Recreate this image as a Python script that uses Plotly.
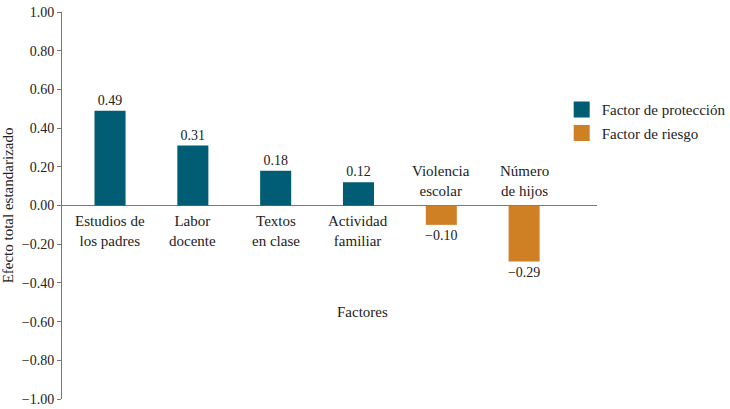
import plotly.graph_objects as go

factores = ['Estudios de<br>los padres', 'Labor<br>docente', 'Textos<br>en clase',
            'Actividad<br>familiar', 'Violencia<br>escolar', 'Número<br>de hijos']
efecto = [0.49, 0.31, 0.18, 0.12, -0.10, -0.29]
tipo = ['Factor de protección'] * 4 + ['Factor de riesgo'] * 2
colores = {'Factor de protección': '#005d73', 'Factor de riesgo': '#cf7f24'}
y_ticks = [1.0, 0.8, 0.6, 0.4, 0.2, 0.0, -0.2, -0.4, -0.6, -0.8, -1.0]

FONT = "'Liberation Serif', 'Times New Roman', serif"
INK = '#222'


def fmt(v):
    return '{:.2f}'.format(v).replace('-', '\u2212')


fig = go.Figure()

for t in ['Factor de protección', 'Factor de riesgo']:
    xs = [f for f, k in zip(factores, tipo) if k == t]
    ys = [v for v, k in zip(efecto, tipo) if k == t]
    fig.add_trace(go.Bar(
        x=xs, y=ys, name=t, showlegend=False,
        marker_color=colores[t], marker_line_width=0,
        width=0.375,
        text=[fmt(v) for v in ys], textposition='outside',
        constraintext='none',
        textfont=dict(family=FONT, size=14, color=INK),
        cliponaxis=False,
    ))
    # legend entry with a larger square swatch
    fig.add_trace(go.Scatter(
        x=[None], y=[None], mode='markers', name=t, legendgroup=t,
        marker=dict(symbol='square', size=16, color=colores[t]),
    ))

# category labels next to the zero line, on the opposite side of the bar
annotations = []
for f, v in zip(factores, efecto):
    annotations.append(dict(
        x=f, y=0, xref='x', yref='y', text=f, showarrow=False,
        yanchor='top' if v >= 0 else 'bottom',
        yshift=-5 if v >= 0 else 5,
        font=dict(family=FONT, size=15, color=INK),
    ))

annotations.append(dict(
    x=0.5626, y=0.199, xref='paper', yref='paper', text='Factores',
    showarrow=False, font=dict(family=FONT, size=15, color=INK),
))

fig.update_layout(
    width=730, height=409,
    margin=dict(l=62, r=133, t=12, b=10, autoexpand=False),
    plot_bgcolor='white', paper_bgcolor='white',
    barmode='relative',
    font=dict(family=FONT, size=15, color=INK),
    showlegend=True,
    legend=dict(x=0.934, y=0.79, xanchor='left', yanchor='top',
                traceorder='grouped', tracegroupgap=1,
                font=dict(family=FONT, size=15, color=INK),
                bgcolor='rgba(0,0,0,0)'),
    annotations=annotations,
)

fig.update_xaxes(
    type='category', categoryorder='array', categoryarray=factores,
    range=[-0.58, 5.88], automargin=False,
    showticklabels=False, showline=False, showgrid=False, zeroline=False, ticks='',
)

fig.update_yaxes(
    range=[-1.0, 1.0], tickvals=y_ticks, ticktext=[fmt(v) for v in y_ticks],
    automargin=False, ticklabeloverflow='allow',
    showgrid=False, showline=True, linecolor='#777', linewidth=1,
    ticks='outside', ticklen=4, tickcolor='#777',
    zeroline=True, zerolinecolor='#777', zerolinewidth=1,
    title=dict(text='Efecto total estandarizado', font=dict(family=FONT, size=15, color=INK),
               standoff=4),
    tickfont=dict(family=FONT, size=14, color=INK),
)

# drop the default 8px body margin so the figure fills the window exactly
fig.write_html('out.html', config={'displayModeBar': False},
               post_script="document.body.style.margin = '0';")
